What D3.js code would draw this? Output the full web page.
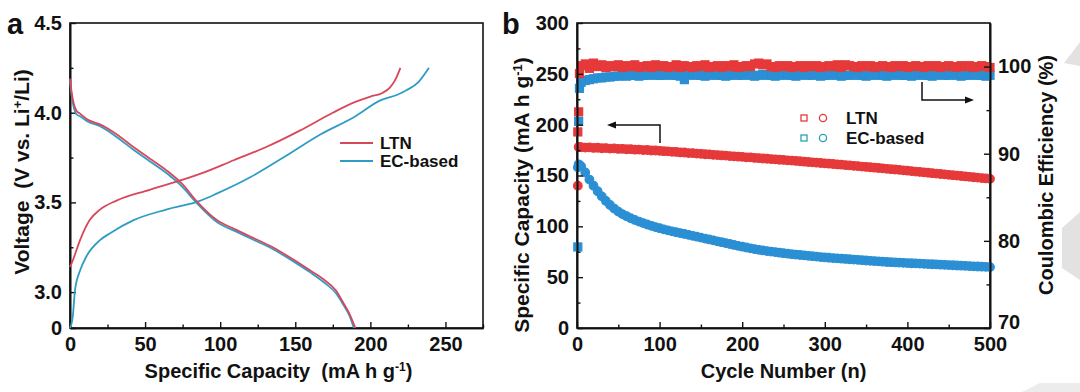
<!DOCTYPE html>
<html><head><meta charset="utf-8">
<script src="https://cdn.jsdelivr.net/npm/d3@7"></script>
<style>
html,body{margin:0;padding:0;background:#fff;}
svg text{font-family:"Liberation Sans",Arial,sans-serif;font-weight:bold;fill:#111;}
</style></head>
<body><svg id="c" width="1080" height="392"></svg>
<script>
// ---------- Panel a data ----------
const ltnChargeCap = [0, 2, 6.7, 13, 20, 31, 53, 87, 109, 131, 153, 175, 190, 200, 208, 213, 217, 220];
const ltnChargeV   = [3.14, 3.18, 3.29, 3.40, 3.46, 3.51, 3.57, 3.66, 3.735, 3.81, 3.90, 4.0, 4.06, 4.09, 4.11, 4.14, 4.19, 4.25];
const ecChargeCap  = [0, 1.8, 3.3, 6.7, 11, 20, 27, 42, 64, 87, 98, 120, 142, 167, 189, 207, 218, 224, 232, 239];
const ecChargeV    = [2.8, 2.86, 3.01, 3.12, 3.20, 3.29, 3.33, 3.40, 3.46, 3.51, 3.55, 3.64, 3.75, 3.88, 3.975, 4.07, 4.10, 4.125, 4.17, 4.25];
const ltnDisCap = [0, 1, 2.5, 4.4, 6.7, 12, 20, 31, 42, 53, 64, 75, 84, 98, 110, 120, 135, 149, 160, 169, 177, 182, 186, 190];
const ltnDisV   = [4.19, 4.12, 4.05, 4.01, 3.995, 3.96, 3.935, 3.88, 3.81, 3.745, 3.68, 3.60, 3.51, 3.40, 3.35, 3.31, 3.25, 3.18, 3.12, 3.07, 3.01, 2.94, 2.88, 2.8];
const ecDisCap  = [0, 1, 2.5, 4.4, 6.7, 12, 20, 31, 42, 53, 64, 75, 84, 98, 110, 120, 135, 149, 160, 169, 177, 182, 186, 189];
const ecDisV    = [4.18, 4.10, 4.03, 3.99, 3.98, 3.95, 3.925, 3.865, 3.795, 3.73, 3.665, 3.585, 3.50, 3.39, 3.34, 3.30, 3.24, 3.17, 3.11, 3.055, 2.995, 2.93, 2.87, 2.8];
const aXTicks = [0, 50, 100, 150, 200, 250];
const aXMinor = [25, 75, 125, 175, 225, 275];
const aYTicks = [2.8, 3.0, 3.5, 4.0, 4.5];
const aYTickLabels = ["0", "3.0", "3.5", "4.0", "4.5"];
const aYMinor = [3.25, 3.75, 4.25];
const aLegend = ["LTN", "EC-based"];

// ---------- Panel b data ----------
const cycles = [1,2,3,5,10,15,20,25,30,35,40,45,50,55,60,65,70,75,80,85,90,95,100,105,110,115,120,125,130,135,140,145,150,155,160,165,170,175,180,185,190,195,200,205,210,215,220,225,230,235,240,245,250,255,260,265,270,275,280,285,290,295,300,305,310,315,320,325,330,335,340,345,350,355,360,365,370,375,380,385,390,395,400,405,410,415,420,425,430,435,440,445,450,455,460,465,470,475,480,485,490,495,500];
const ltnCapacity = [140,178,178,
177.8,177.4,177.6,177.1,177.3,176.8,177.0,176.5,176.6,176.1,
176.2,175.8,175.9,175.4,175.5,175.0,175.1,174.6,174.6,174.2,
173.9,173.8,173.3,173.2,172.7,172.6,172.1,172.0,171.5,171.3,
170.9,170.8,170.3,170.1,169.7,169.6,169.1,168.9,168.5,168.3,
167.9,167.8,167.3,167.1,166.7,166.5,166.1,165.9,165.5,165.3,
164.9,164.6,164.3,164.0,163.6,163.3,163.0,162.6,162.3,161.9,
161.6,161.3,160.9,160.6,160.2,159.9,159.5,159.2,158.8,158.4,
158.1,157.7,157.4,157.0,156.6,156.2,155.9,155.5,155.1,154.7,
154.3,153.9,153.5,153.1,152.7,152.3,151.9,151.5,151.1,150.7,
150.3,149.9,149.5,149.1,148.7,148.3,147.9,147.5,147.1,146.7];
const ecCapacity = [158,161,160,
159,153,146,140,134.5,129.5,125,121,117.5,114.5,
112,110,108,106.3,104.7,103.2,101.8,100.5,99.3,98.2,
97.1,96.1,95.1,94.2,93.3,92.5,91.6,90.7,89.8,88.9,
88.0,87.1,86.2,85.3,84.4,83.5,82.6,81.7,80.8,80.0,
79.2,78.4,77.6,76.9,76.3,75.7,75.1,74.6,74.1,73.6,
73.1,72.6,72.2,71.8,71.4,71.0,70.6,70.2,69.8,69.4,
69.1,68.8,68.5,68.2,67.9,67.6,67.3,67.0,66.7,66.4,
66.1,65.8,65.5,65.2,64.9,64.7,64.5,64.3,64.1,63.9,
63.7,63.5,63.3,63.1,62.9,62.7,62.5,62.3,62.1,61.9,
61.7,61.5,61.3,61.1,60.9,60.7,60.5,60.3,60.1,59.9];
const ltnCE = [92.5,94.8,99.2,
100.1,100.3,99.8,100.4,100.0,100.2,99.9,100.1,100.0,100.2,
99.9,100.1,100.0,100.2,99.9,100.0,100.1,99.9,100.2,100.0,
100.1,99.9,100.0,100.2,99.9,100.1,100.0,99.9,100.1,100.0,
100.2,99.9,100.0,100.1,99.9,100.1,100.0,100.2,99.9,100.0,
100.1,100.0,100.3,100.4,100.2,100.3,100.0,99.9,100.1,100.0,
100.1,99.9,100.0,100.1,99.9,100.1,100.0,100.1,99.9,100.0,
100.1,100.0,100.2,99.9,100.2,100.1,100.0,99.9,100.1,100.0,
100.1,99.9,100.0,100.1,100.0,99.9,100.1,100.0,100.1,99.9,
100.0,100.1,100.0,99.9,100.1,100.0,100.1,99.9,100.0,100.1,
100.0,99.9,100.1,100.0,100.1,99.9,100.0,100.1,100.0,99.9];
const ecCE = [79.3,93.7,97.5,
98.2,98.4,98.5,98.6,98.7,98.7,98.8,98.8,98.9,98.9,
99.0,98.9,99.0,99.0,98.9,99.0,99.0,99.1,99.0,99.0,
99.0,99.1,99.0,99.0,98.9,98.5,99.0,99.1,99.0,99.0,
98.9,99.0,99.1,99.0,99.0,98.9,99.0,99.1,99.0,99.0,
99.1,99.0,98.9,99.0,99.1,99.0,99.0,98.9,99.0,99.1,
99.0,99.0,98.9,99.0,99.1,99.0,99.0,99.1,98.9,99.0,
99.0,99.1,99.0,98.9,99.0,99.0,99.1,99.0,99.0,98.9,
99.0,99.1,99.0,99.0,98.9,99.0,99.1,99.0,99.0,99.0,
98.9,99.0,99.1,99.0,99.0,98.9,99.0,99.1,99.0,99.0,
99.1,99.0,98.9,99.0,99.0,99.1,99.0,99.0,98.9,99.0];
const bXTicks = [0, 100, 200, 300, 400, 500];
const bXMinor = [50, 150, 250, 350, 450];
const bYTicks = [0, 50, 100, 150, 200, 250, 300];
const bYMinor = [25, 75, 125, 175, 225, 275];
const bY2Ticks = [70, 80, 90, 100];
const bY2Minor = [75, 85, 95];
const bLegend = ["LTN", "EC-based"];

// ---------- drawing ----------
const svg = d3.select("#c");
const RED_A = "#d9475a", BLUE_A = "#2f9cc4";
const RED_B = "#e6393a", BLUE_B = "#2b8fd4";
const TICK_FS = "20px", TITLE_FS = "20px";

function styleAxis(g, fs) {
  g.select(".domain").attr("stroke", "#111").attr("stroke-width", 1.6);
  g.selectAll(".tick line").attr("stroke", "#111").attr("stroke-width", 1.4);
  g.selectAll(".tick text").style("font-size", fs).attr("fill", "#111");
}

// Panel a
const A = {l: 70, r: 483, t: 23, b: 328};
const ax = d3.scaleLinear().domain([0, 275]).range([A.l, A.r]);
const ay = d3.scaleLinear().domain([2.8, 4.5]).range([A.b, A.t]);
const ga = svg.append("g");
ga.append("rect").attr("x", A.l).attr("y", A.t).attr("width", A.r - A.l).attr("height", A.b - A.t)
  .attr("fill", "none").attr("stroke", "#111").attr("stroke-width", 1.6);
ga.append("g").attr("transform", `translate(0,${A.b})`)
  .call(d3.axisBottom(ax).tickValues(aXTicks).tickSizeInner(-6).tickSizeOuter(0).tickPadding(9))
  .call(g => styleAxis(g, TICK_FS));
ga.append("g").attr("transform", `translate(0,${A.b})`)
  .call(d3.axisBottom(ax).tickValues(aXMinor).tickSizeInner(-3.5).tickSizeOuter(0).tickFormat(""))
  .call(g => styleAxis(g, TICK_FS));
ga.append("g").attr("transform", `translate(${A.l},0)`)
  .call(d3.axisLeft(ay).tickValues(aYTicks).tickSizeInner(-6).tickSizeOuter(0).tickPadding(8)
    .tickFormat((d, i) => aYTickLabels[i]))
  .call(g => styleAxis(g, TICK_FS));
ga.append("g").attr("transform", `translate(${A.l},0)`)
  .call(d3.axisLeft(ay).tickValues(aYMinor).tickSizeInner(-3.5).tickSizeOuter(0).tickFormat(""))
  .call(g => styleAxis(g, TICK_FS));

const lineA = d3.line().x(d => ax(d[0])).y(d => ay(d[1])).curve(d3.curveMonotoneX);
const zipA = (c, v) => c.map((x, i) => [x, v[i]]);
[[ecChargeCap, ecChargeV, BLUE_A], [ecDisCap, ecDisV, BLUE_A],
 [ltnChargeCap, ltnChargeV, RED_A], [ltnDisCap, ltnDisV, RED_A]].forEach(([c, v, col]) => {
  ga.append("path").datum(zipA(c, v)).attr("d", lineA)
    .attr("fill", "none").attr("stroke", col).attr("stroke-width", 1.8);
});
// legend a
aLegend.forEach((name, i) => {
  const y = 143 + i * 18;
  ga.append("line").attr("x1", 340).attr("x2", 373).attr("y1", y).attr("y2", y)
    .attr("stroke", i === 0 ? RED_A : BLUE_A).attr("stroke-width", 1.8);
  ga.append("text").attr("x", 380).attr("y", y).attr("dy", "0.36em").style("font-size", "17px").text(name);
});
ga.append("text").attr("x", (A.l + A.r) / 2 + 2).attr("y", 378).attr("text-anchor", "middle")
  .style("font-size", TITLE_FS)
  .html('Specific Capacity&#160;&#160;(mA h g<tspan dy="-7" style="font-size:12px">-1</tspan><tspan dy="7">)</tspan>');
ga.append("text").attr("transform", "translate(29,172) rotate(-90)").attr("text-anchor", "middle")
  .style("font-size", "21px")
  .html('Voltage&#160;&#160;(V vs. Li<tspan dy="-7" style="font-size:13px">+</tspan><tspan dy="7">/Li)</tspan>');
svg.append("text").attr("x", 7).attr("y", 34).style("font-size", "29px").text("a");

// Panel b
const B = {l: 577, r: 990, t: 23, b: 328};
const bx = d3.scaleLinear().domain([0, 500]).range([B.l, B.r]);
const by = d3.scaleLinear().domain([0, 300]).range([B.b, B.t]);
const by2 = d3.scaleLinear().domain([70, 105]).range([B.b, B.t]);
const gb = svg.append("g");
gb.append("rect").attr("x", B.l).attr("y", B.t).attr("width", B.r - B.l).attr("height", B.b - B.t)
  .attr("fill", "none").attr("stroke", "#111").attr("stroke-width", 1.6);

// markers (dense scatter -> solid band)
const gm = gb.append("g");
function circles(vals, col) {
  gm.append("g").selectAll("circle").data(cycles.map((c, i) => [c, vals[i]])).join("circle")
    .attr("cx", d => bx(d[0])).attr("cy", d => by(d[1])).attr("r", 4.3)
    .attr("fill", col).attr("stroke", col).attr("stroke-width", 1.2);
}
function squares(vals, col) {
  gm.append("g").selectAll("rect").data(cycles.map((c, i) => [c, vals[i]])).join("rect")
    .attr("x", d => bx(d[0]) - 4).attr("y", d => by2(d[1]) - 4).attr("width", 8).attr("height", 8)
    .attr("fill", col).attr("stroke", col).attr("stroke-width", 1.2);
}
circles(ecCapacity, BLUE_B);
circles(ltnCapacity, RED_B);
squares(ecCE, BLUE_B);
squares(ltnCE, RED_B);

gb.append("g").attr("transform", `translate(0,${B.b})`)
  .call(d3.axisBottom(bx).tickValues(bXTicks).tickSizeInner(-6).tickSizeOuter(0).tickPadding(9))
  .call(g => styleAxis(g, TICK_FS));
gb.append("g").attr("transform", `translate(0,${B.b})`)
  .call(d3.axisBottom(bx).tickValues(bXMinor).tickSizeInner(-3.5).tickSizeOuter(0).tickFormat(""))
  .call(g => styleAxis(g, TICK_FS));
gb.append("g").attr("transform", `translate(${B.l},0)`)
  .call(d3.axisLeft(by).tickValues(bYTicks).tickSizeInner(-6).tickSizeOuter(0).tickPadding(8))
  .call(g => styleAxis(g, TICK_FS));
gb.append("g").attr("transform", `translate(${B.l},0)`)
  .call(d3.axisLeft(by).tickValues(bYMinor).tickSizeInner(-3.5).tickSizeOuter(0).tickFormat(""))
  .call(g => styleAxis(g, TICK_FS));
gb.append("g").attr("transform", `translate(${B.r},0)`)
  .call(d3.axisRight(by2).tickValues(bY2Ticks).tickSizeInner(-6).tickSizeOuter(0).tickPadding(8))
  .call(g => styleAxis(g, TICK_FS))
  .call(g => g.selectAll(".tick text").filter(d => d === 70).attr("y", -6));
gb.append("g").attr("transform", `translate(${B.r},0)`)
  .call(d3.axisRight(by2).tickValues(bY2Minor).tickSizeInner(-3.5).tickSizeOuter(0).tickFormat(""))
  .call(g => styleAxis(g, TICK_FS));

// arrows
gb.append("path").attr("d", "M660,143 V125 H614").attr("fill", "none").attr("stroke", "#111").attr("stroke-width", 1.5);
gb.append("path").attr("d", "M607,125 L616,121.5 L616,128.5 Z").attr("fill", "#111");
gb.append("path").attr("d", "M922,82 V100 H967").attr("fill", "none").attr("stroke", "#111").attr("stroke-width", 1.5);
gb.append("path").attr("d", "M974,100 L965,96.5 L965,103.5 Z").attr("fill", "#111");

// legend b
bLegend.forEach((name, i) => {
  const y = 118 + i * 20;
  const col = i === 0 ? RED_B : "#2aa0b8";
  gb.append("rect").attr("x", 801).attr("y", y - 3).attr("width", 6).attr("height", 6)
    .attr("fill", "none").attr("stroke", col).attr("stroke-width", 1.3);
  gb.append("circle").attr("cx", 823).attr("cy", y).attr("r", 3.6)
    .attr("fill", "none").attr("stroke", col).attr("stroke-width", 1.3);
  gb.append("text").attr("x", 846).attr("y", y).attr("dy", "0.36em").style("font-size", "17px").text(name);
});

gb.append("text").attr("x", (B.l + B.r) / 2).attr("y", 378).attr("text-anchor", "middle")
  .style("font-size", TITLE_FS).text("Cycle Number (n)");
gb.append("text").attr("transform", "translate(529,195) rotate(-90)").attr("text-anchor", "middle")
  .style("font-size", "21px")
  .html('Specific Capacity (mA h g<tspan dy="-7" style="font-size:13px">-1</tspan><tspan dy="7">)</tspan>');
gb.append("text").attr("transform", "translate(1053,175) rotate(-90)").attr("text-anchor", "middle")
  .style("font-size", TITLE_FS).text("Coulombic Efficiency (%)");
svg.append("text").attr("x", 502).attr("y", 34).style("font-size", "29px").text("b");

// faint watermark shapes at the right edge
svg.append("path").attr("d", "M1064,63 L1080,42 L1080,66 Z").attr("fill", "#e2e2e2");
svg.append("path").attr("d", "M1062,228 L1080,212 L1080,280 L1062,268 Z").attr("fill", "#e2e2e2");
svg.append("path").attr("d", "M1022,392 L1040,383 L1080,383 L1080,392 Z").attr("fill", "#ececec");
</script></body></html>
